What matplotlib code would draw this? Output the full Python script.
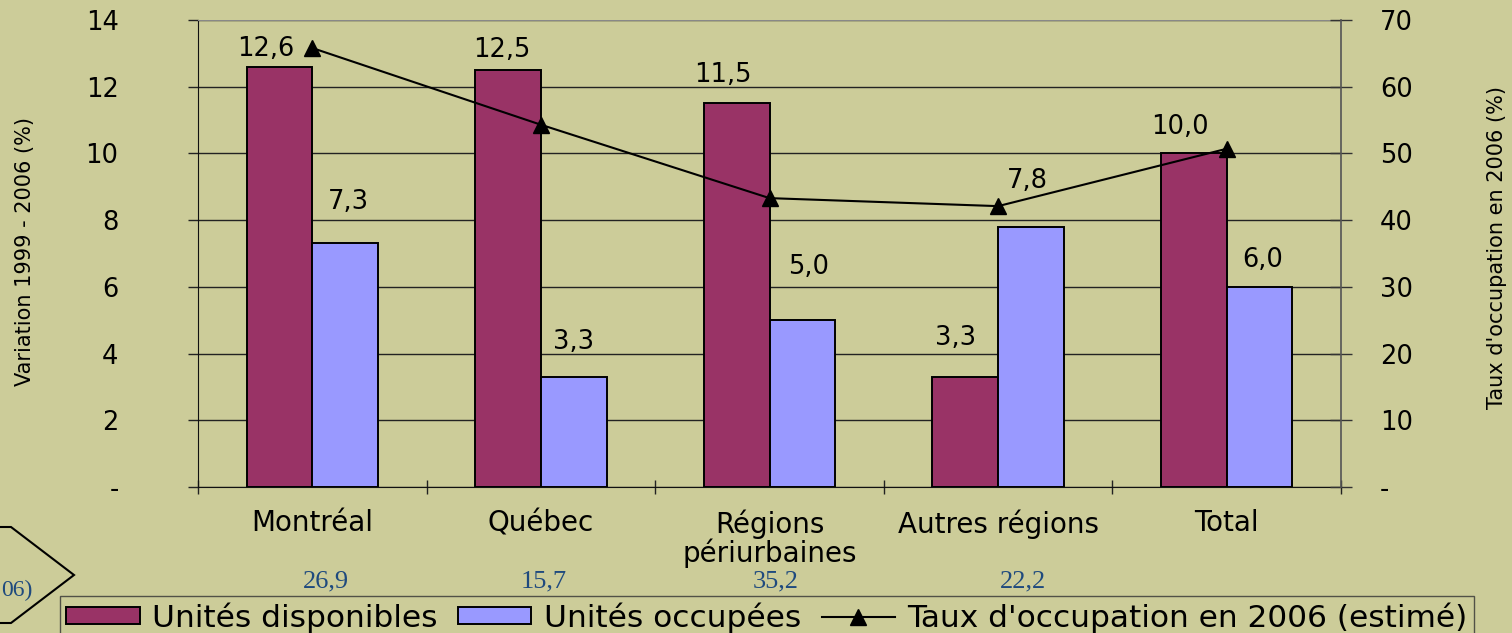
import matplotlib
matplotlib.use('Agg')
import matplotlib.pyplot as plt
import matplotlib.patches as mpatches
import matplotlib.lines as mlines
import matplotlib.transforms as mtransforms
import numpy as np

# data
categories = ['Montréal', 'Québec', 'Régions\npériurbaines', 'Autres régions', 'Total']
disponibles = [12.6, 12.5, 11.5, 3.3, 10.0]
occupees = [7.3, 3.3, 5.0, 7.8, 6.0]
taux = [65.8, 54.3, 43.3, 42.1, 50.7]
extra_values = ['26,9', '15,7', '35,2', '22,2']  # blue numbers under the axis

left_ticks = [0, 2, 4, 6, 8, 10, 12, 14]
left_labels = ['-', '2', '4', '6', '8', '10', '12', '14']
right_ticks = [0, 10, 20, 30, 40, 50, 60, 70]
right_labels = ['-', '10', '20', '30', '40', '50', '60', '70']

# label nudges in pixels (dx, dy above bar top), as placed in the original
disp_offsets = [(-14, 18), (-6, 20), (-14, 28), (-10, 39), (-14, 26)]
occ_offsets = [(3, 41), (0, 35), (6, 53), (-4, 46), (3, 27)]
extra_dx = [14, 3, 6, 25]  # pixels right of category centre

bg = '#CCCC99'
c_disp = '#993366'
c_occ = '#9999FF'
blue = '#1F4A7E'

fig = plt.figure(figsize=(15.12, 6.33), dpi=100, facecolor=bg)
ax = fig.add_axes([198/1512, 1-487/633, (1341-198)/1512, (487-20)/633])
ax.set_facecolor(bg)

x = np.arange(len(categories))
w = 0.287
b1 = ax.bar(x - w/2, disponibles, w, color=c_disp, edgecolor='black', linewidth=1.4, zorder=3)
b2 = ax.bar(x + w/2, occupees, w, color=c_occ, edgecolor='black', linewidth=1.4, zorder=3)

ax.set_xlim(-0.5, len(categories) - 0.5)
ax.set_ylim(0, 14)
ax.set_yticks(left_ticks)
ax.set_yticklabels(left_labels)
ax.yaxis.grid(True, color='#222222', linewidth=1.0, zorder=0)
ax.set_axisbelow(True)

# category boundaries as ticks, names on minor ticks
ax.set_xticks(np.arange(-0.5, len(categories), 1.0))
ax.set_xticklabels([])
ax.set_xticks(x, minor=True)
ax.set_xticklabels(categories, minor=True, fontsize=20, linespacing=1.0)
ax.tick_params(axis='x', which='major', direction='inout', length=10, width=1, color='#222222')
ax.tick_params(axis='x', which='minor', length=0, pad=16)
ax.tick_params(axis='y', direction='out', length=7.2, width=1, color='#222222', labelsize=18.5, pad=50)

for side in ['top', 'right']:
    ax.spines[side].set_visible(False)
ax.spines['left'].set_color('#111111')
ax.spines['bottom'].set_color('#111111')

# value labels
for i, v in enumerate(disponibles):
    ax.annotate(f'{v:.1f}'.replace('.', ','), (x[i] - w/2, v), xytext=disp_offsets[i],
                textcoords='offset pixels', ha='center', va='center', fontsize=18.5)
for i, v in enumerate(occupees):
    ax.annotate(f'{v:.1f}'.replace('.', ','), (x[i] + w/2, v), xytext=occ_offsets[i],
                textcoords='offset pixels', ha='center', va='center', fontsize=18.5)

# second axis for the rate
ax2 = ax.twinx()
ax2.set_ylim(0, 70)
ax2.set_yticks(right_ticks)
ax2.set_yticklabels(right_labels)
ax2.plot(x, taux, color='black', linewidth=1.5, marker='^', markersize=11, zorder=5)
ax2.tick_params(axis='y', direction='inout', length=15.8, width=1, color='#333333', labelsize=18.5, pad=20)
for side in ['top', 'left', 'bottom']:
    ax2.spines[side].set_visible(False)
ax2.spines['right'].set_color('#555555')
ax2.spines['right'].set_linewidth(1.2)
ax2.axhline(70, color='#888888', linewidth=1.5, zorder=1)

fig.text(25/1512, 1-252/633, 'Variation 1999 - 2006 (%)', rotation=90, ha='center', va='center', fontsize=15)
fig.text(1497/1512, 1-247/633, "Taux d'occupation en 2006 (%)", rotation=90, ha='center', va='center', fontsize=15)

# blue numbers under the categories
trans = mtransforms.blended_transform_factory(ax.transData, fig.transFigure)
for i, t in enumerate(extra_values):
    ax.annotate(t, (x[i], 1-581/633), xycoords=trans, xytext=(extra_dx[i], 0),
                textcoords='offset pixels', ha='center', va='center',
                family='Liberation Serif', fontsize=19, color=blue, annotation_clip=False)

# cut-off arrow shape at the bottom left
pent = mpatches.Polygon([(-2/1512, 1-527/633), (11/1512, 1-527/633), (74/1512, 1-575/633),
                         (11/1512, 1-623/633), (-2/1512, 1-623/633)],
                        closed=True, fill=False, edgecolor='black', linewidth=1.5,
                        transform=fig.transFigure)
fig.patches.append(pent)
fig.text(1/1512, 1-590/633, '06)', ha='left', va='center', family='Liberation Serif',
         fontsize=17, color=blue)

# legend
h1 = mpatches.Patch(facecolor=c_disp, edgecolor='black', linewidth=1.4)
h2 = mpatches.Patch(facecolor=c_occ, edgecolor='black', linewidth=1.4)
h3 = mlines.Line2D([], [], color='black', linewidth=1.5, marker='^', markersize=11)
leg = fig.legend([h1, h2, h3],
                 ['Unités disponibles', 'Unités occupées', "Taux d'occupation en 2006 (estimé)"],
                 loc='upper left', bbox_to_anchor=(60/1512, 1-596/633), ncol=3,
                 fontsize=22.5, frameon=True, fancybox=False, borderaxespad=0,
                 handlelength=2.35, handleheight=0.45, handletextpad=0.4,
                 columnspacing=0.65, borderpad=0.2)
leg.get_frame().set_facecolor(bg)
leg.get_frame().set_edgecolor('#333333')
leg.get_frame().set_linewidth(1.0)

fig.savefig('out.png', dpi=100, facecolor=bg)
